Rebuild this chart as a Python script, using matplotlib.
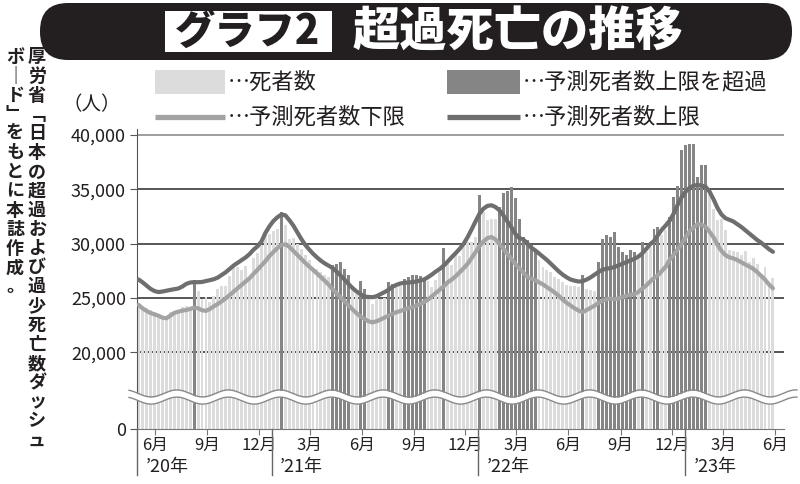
import numpy as np
import matplotlib
matplotlib.use('Agg')
import matplotlib.pyplot as plt
from matplotlib.patches import FancyBboxPatch, Rectangle

plt.rcParams['font.family'] = ['Noto Sans CJK JP', 'DejaVu Sans']

W, H = 800, 484
INK = '#231f20'
LIGHT = '#dcdcdc'
DARK = '#858585'
LOWER_C = '#a3a3a3'
UPPER_C = '#6e6e6e'

# weekly data, first week starts 2020-05-03
week_start = np.datetime64('2020-05-03')
origin = np.datetime64('2020-06-01')

deaths = [
    24150, 24000, 24060, 23940, 23690, 23540, 23230, 23380, 23690, 23840,
    23940, 24150, 24300, 24150, 26700, 25690, 24920, 25080, 24620, 25230,
    25850, 26090, 26150, 27010, 27850, 27850, 27540, 27940, 26770, 28680,
    29140, 29850, 30770, 30900, 31200, 31400, 32900, 31690, 30460, 30520,
    30000, 29480, 28920, 28460, 27850, 27690, 27380, 27080, 26900, 28000,
    28150, 28310, 27690, 27080, 25700, 25400, 26610, 25850, 24950, 24460,
    24980, 24920, 25000, 26460, 26300, 26000, 26150, 26770, 26920, 27080,
    27080, 27010, 26850, 26610, 26000, 26700, 27400, 29600, 28100, 28000,
    28920, 28860, 29800, 30150, 30150, 30610, 34460, 32900, 32150, 32300,
    32300, 33400, 34710, 34830, 35230, 34210, 32310, 30600, 30310, 29900,
    29550, 28460, 27850, 27540, 27380, 26920, 26710, 26460, 26210, 26090,
    26090, 26000, 27080, 25850, 25780, 25690, 28310, 30460, 30770, 30610,
    31080, 29690, 29230, 28920, 29380, 29230, 28600, 30150, 29200, 29700,
    31380, 31540, 30770, 31300, 32500, 34300, 35300, 38600, 39100, 39200,
    39200, 36100, 37200, 37200, 34620, 33170, 32150, 32310, 31230, 29380,
    29290, 29230, 28920, 29290, 28310, 28680, 28150, 27230, 27850, 26520, 26830,
]

upper = [
    26710, 26450, 26150, 25850, 25650, 25550, 25600, 25680, 25750, 25820,
    25880, 26050, 26300, 26430, 26460, 26460, 26480, 26560, 26650, 26740,
    26890, 27140, 27380, 27690, 28000, 28250, 28490, 28740, 29050, 29450,
    29760, 30210, 31000, 31600, 32090, 32430, 32680, 32620, 32180, 31690,
    31080, 30460, 29910, 29480, 29080, 28740, 28430, 28180, 27970, 27750,
    27420, 27050, 26680, 26280, 25910, 25600, 25350, 25140, 25100, 25080,
    25170, 25350, 25540, 25750, 26030, 26210, 26340, 26400, 26430, 26460,
    26520, 26610, 26710, 26920, 27170, 27450, 27690, 28000, 28370, 28770,
    29140, 29540, 30000, 30610, 31320, 32060, 32770, 33230, 33480, 33540,
    33380, 33080, 32610, 32060, 31540, 30920, 30520, 30400, 30050, 29650,
    29400, 29100, 28800, 28500, 28150, 27800, 27450, 27150, 26900, 26700,
    26600, 26520, 26550, 26700, 26900, 27150, 27400, 27600, 27700, 27750,
    27850, 28000, 28150, 28300, 28450, 28600, 28800, 29100, 29500, 29950,
    30250, 30800, 31300, 31700, 32150, 32800, 33600, 34300, 34800, 35150,
    35350, 35400, 35350, 35250, 34800, 34100, 33300, 32700, 32350, 32200,
    32050, 31800, 31550, 31250, 30950, 30650, 30350, 30100, 29800, 29500, 29250,
]

lower = [
    24370, 24060, 23820, 23630, 23510, 23380, 23200, 23140, 23380, 23630,
    23750, 23840, 23900, 24000, 24120, 24060, 23880, 23820, 24000, 24250,
    24460, 24710, 24980, 25290, 25600, 25900, 26220, 26520, 26830, 27230,
    27600, 28000, 28400, 28860, 29230, 29600, 29880, 29940, 29720, 29350,
    28980, 28620, 28250, 27910, 27600, 27260, 26920, 26580, 26210, 25780,
    25410, 25050, 24680, 24310, 23940, 23600, 23290, 23080, 22860, 22770,
    22860, 23020, 23200, 23380, 23540, 23690, 23820, 23940, 24060, 24150,
    24300, 24460, 24620, 24860, 25170, 25480, 25780, 26090, 26460, 26710,
    27010, 27380, 27750, 28150, 28680, 29230, 29780, 30210, 30520, 30610,
    30400, 30000, 29540, 29080, 28620, 28150, 27750, 27380, 26950, 26800,
    26650, 26450, 26250, 26000, 25750, 25500, 25200, 24850, 24550, 24300,
    24050, 23850, 23700, 23900, 24100, 24300, 24550, 24750, 24900, 24950,
    24900, 24950, 25100, 25200, 25300, 25350, 25550, 25850, 26150, 26500,
    26850, 27100, 27500, 27900, 28550, 29000, 29500, 30000, 30600, 31150,
    31500, 31800, 31750, 31550, 31100, 30600, 29900, 29350, 28950, 28750,
    28650, 28500, 28300, 28100, 27900, 27700, 27400, 27050, 26700, 26250, 25900,
]

# broken axis: the "0" sits at BASE
BASE = 13000
ytick_vals = [BASE, 20000, 25000, 30000, 35000, 40000]
ytick_labels = ['0', '20,000', '25,000', '30,000', '35,000', '40,000']

month_ticks = ['2020-06', '2020-09', '2020-12', '2021-03', '2021-06', '2021-09',
               '2021-12', '2022-03', '2022-06', '2022-09', '2022-12',
               '2023-03', '2023-06']
month_labels = ['6月', '9月', '12月', '3月', '6月', '9月', '12月',
                '3月', '6月', '9月', '12月', '3月', '6月']
years = ['2021', '2022', '2023']
year_labels = ['’20年', '’21年', '’22年', '’23年']

legend_labels = ['…死者数', '…予測死者数上限を超過', '…予測死者数下限', '…予測死者数上限']
source_cols = ['厚労省﹁日本の超過および過少死亡数ダッシュ', 'ボ｜ド﹂をもとに本誌作成。']


def day(s):
    return (np.datetime64(s, 'D') - origin).astype(int)


deaths = np.array(deaths)
upper = np.array(upper)
lower = np.array(lower)
x = (week_start - origin).astype(int) + 7 * np.arange(len(deaths))
exceed = deaths > upper

fig = plt.figure(figsize=(W / 100, H / 100), dpi=100)
fig.patch.set_facecolor('white')

ax_l, ax_r, ax_t, ax_b = 137, 784, 128.5, 428.5
ax = fig.add_axes([ax_l / W, 1 - ax_b / H, (ax_r - ax_l) / W, (ax_b - ax_t) / H])
px_per_day = 0.5664
ax.set_xlim((ax_l - 155) / px_per_day, (ax_r - 155) / px_per_day)
ax.set_ylim(BASE, 40600)

for v in ytick_vals[1:]:
    ax.axhline(v, color='#8c8c8c' if v == 40000 else '#3a3a3a', lw=1.2, zorder=1)

ax.bar(x, deaths - BASE, bottom=BASE, width=5.2,
       color=np.where(exceed, DARK, LIGHT), linewidth=0, zorder=2)
ax.plot(x, lower, color=LOWER_C, lw=3.0, zorder=3, solid_capstyle='round')
ax.plot(x, upper, color=UPPER_C, lw=3.0, zorder=4, solid_capstyle='round')

for s in ['top', 'right']:
    ax.spines[s].set_visible(False)
ax.spines['left'].set_color('#555555')
ax.spines['bottom'].set_color('#777777')

ax.set_yticks(ytick_vals)
ax.set_yticklabels(ytick_labels, fontsize=13, color=INK)
ax.set_xticks([day(m + '-01') for m in month_ticks])
ax.set_xticklabels(month_labels, fontsize=12, color=INK)
ax.tick_params(axis='y', length=5, color='#555555', pad=3)
ax.tick_params(axis='x', length=4, color='#777777', pad=2)

# year separators and year labels under the month labels
xt = ax.get_xaxis_transform()
drop = -(475 - ax_b) / (ax_b - ax_t)
seps = [ax.get_xlim()[0]] + [day(y + '-01-01') - 8 for y in years]
for s, lab in zip(seps, year_labels):
    ax.plot([s, s], [0, drop], transform=xt, color='#666666', lw=1.0, clip_on=False)
    ax.annotate(lab, xy=(s, -0.128), xycoords=xt, xytext=(6, 0),
                textcoords='offset points', ha='left', va='center',
                fontsize=13, color=INK)

# overlay in pixel coordinates for title, legend, notes and the axis break
ov = fig.add_axes([0, 0, 1, 1])
ov.set_xlim(0, W)
ov.set_ylim(H, 0)
ov.axis('off')
ov.patch.set_alpha(0)

ov.add_patch(FancyBboxPatch((40, 3), 752, 57, boxstyle='round,pad=0,rounding_size=28',
                            facecolor=INK, edgecolor='none'))
ov.add_patch(Rectangle((165, 11), 167, 41, facecolor='white', edgecolor='none'))
ov.text(248, 32, 'グラフ2', ha='center', va='center', fontsize=29,
        fontweight='heavy', color=INK)
ov.text(518, 32, '超過死亡の推移', ha='center', va='center', fontsize=34,
        fontweight='heavy', color='white')

# legend
ov.add_patch(Rectangle((155, 70), 70, 24, facecolor=LIGHT, edgecolor='none'))
ov.add_patch(Rectangle((447, 70), 73, 24, facecolor=DARK, edgecolor='none'))
ov.plot([155, 225], [117, 117], color=LOWER_C, lw=3.8, solid_capstyle='butt')
ov.plot([447, 520], [117, 117], color=UPPER_C, lw=3.8, solid_capstyle='butt')
for (tx, ty), lab in zip([(228, 82), (523, 82), (228, 117), (523, 117)], legend_labels):
    ov.text(tx, ty, lab, ha='left', va='center', fontsize=16, color=INK)

ov.text(92, 105, '（人）', ha='center', va='center', fontsize=14, color=INK)

# vertical source note
for cx, col in zip([37, 15], source_cols):
    for i, ch in enumerate(col):
        ov.text(cx, 57 + i * 19.15, ch, ha='center', va='center', fontsize=13,
                fontweight='bold', color=INK)

# wavy break of the value axis
wx = np.linspace(129, 797, 600)
wy = 397 - 3.5 * np.cos(2 * np.pi * (wx - 280) / 51.6)
ov.fill_between(wx, wy - 3.2, wy + 3.2, color='white', lw=0, zorder=5)
ov.plot(wx, wy - 3.6, color='#8a8a8a', lw=1.0, zorder=6)
ov.plot(wx, wy + 3.6, color='#8a8a8a', lw=1.0, zorder=6)

fig.savefig('out.png', dpi=100, facecolor='white')
